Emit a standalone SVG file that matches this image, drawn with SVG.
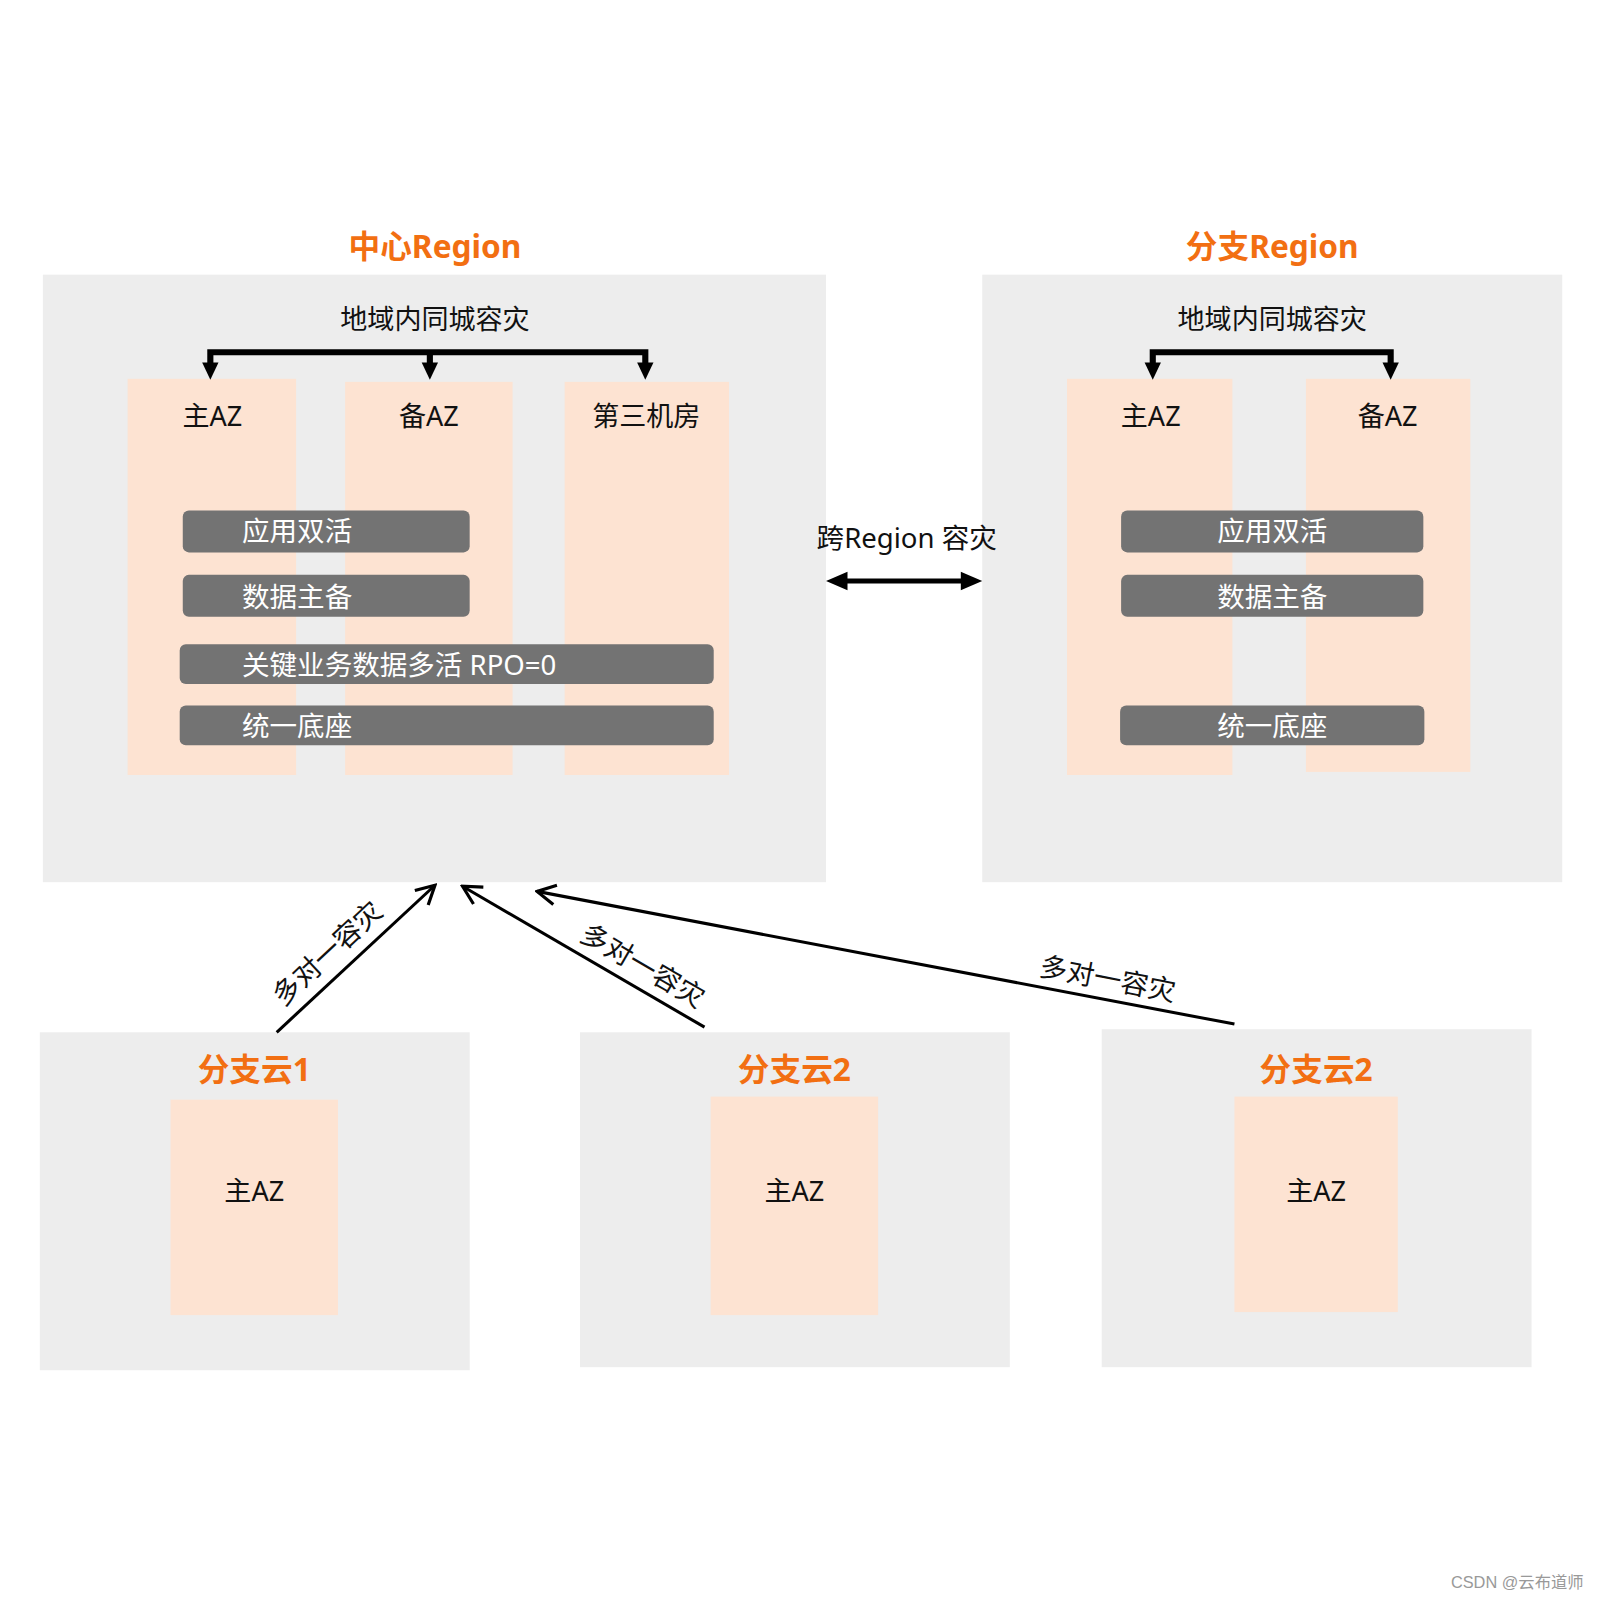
<svg xmlns="http://www.w3.org/2000/svg" width="1601" height="1600" viewBox="0 0 1601 1600">
<style>
text{font-family:"Noto Sans","Noto Sans CJK SC",sans-serif;}
.region{fill:#ededed;}
.az{fill:#fde3d2;}
.bar{fill:#737373;}
.title{fill:#f26f12;font-size:31px;font-weight:bold;text-anchor:middle;dominant-baseline:central;}
.lbl{fill:#111;font-size:26.5px;text-anchor:middle;dominant-baseline:central;}
.bt{fill:#fff;font-size:27px;dominant-baseline:central;}
.btc{fill:#fff;font-size:27px;text-anchor:middle;dominant-baseline:central;}
.thick{fill:none;stroke:#000;stroke-width:6;}
.conn{fill:none;stroke:#000;stroke-width:3;}
</style>
<defs>
<marker id="open" viewBox="0 0 20 20" refX="18" refY="10" markerWidth="24" markerHeight="24" orient="auto" markerUnits="userSpaceOnUse">
<path d="M3,2 L18,10 L3,18" fill="none" stroke="#000" stroke-width="2.6"/>
</marker>
</defs>
<rect width="1601" height="1600" fill="#fff"/>
<g transform="scale(1.02105)">
<g id="center-region">
<rect class="region" x="42" y="269" width="767" height="595"/>
<text class="title" x="426" y="240">中心Region</text>
<text class="lbl" x="426" y="312">地域内同城容灾</text>
</g>
<g id="center-az1"><rect class="az" x="125" y="371" width="165" height="388"/><text class="lbl" x="208" y="407">主AZ</text></g>
<g id="center-az2"><rect class="az" x="338" y="374" width="164" height="385"/><text class="lbl" x="420" y="407">备AZ</text></g>
<g id="center-az3"><rect class="az" x="553" y="374" width="161" height="385"/><text class="lbl" x="633" y="407">第三机房</text></g>
<g id="center-bar1"><rect class="bar" x="179" y="500" width="281" height="41" rx="6"/><text class="bt" x="237" y="520">应用双活</text></g>
<g id="center-bar2"><rect class="bar" x="179" y="563" width="281" height="41" rx="6"/><text class="bt" x="237" y="584">数据主备</text></g>
<g id="center-bar3"><rect class="bar" x="176" y="631" width="523" height="39" rx="6"/><text class="bt" x="237" y="651">关键业务数据多活 RPO=0</text></g>
<g id="center-bar4"><rect class="bar" x="176" y="691" width="523" height="39" rx="6"/><text class="bt" x="237" y="711">统一底座</text></g>

<g id="branch-region">
<rect class="region" x="962" y="269" width="568" height="595"/>
<text class="title" x="1246" y="240">分支Region</text>
<text class="lbl" x="1246" y="312">地域内同城容灾</text>
</g>
<g id="branch-az1"><rect class="az" x="1045" y="371" width="162" height="388"/><text class="lbl" x="1127" y="407">主AZ</text></g>
<g id="branch-az2"><rect class="az" x="1279" y="371" width="161" height="385"/><text class="lbl" x="1359" y="407">备AZ</text></g>
<g id="branch-bar1"><rect class="bar" x="1098" y="500" width="296" height="41" rx="6"/><text class="btc" x="1246" y="520">应用双活</text></g>
<g id="branch-bar2"><rect class="bar" x="1098" y="563" width="296" height="41" rx="6"/><text class="btc" x="1246" y="584">数据主备</text></g>
<g id="branch-bar3"><rect class="bar" x="1097" y="691" width="298" height="39" rx="6"/><text class="btc" x="1246" y="711">统一底座</text></g>

<g id="cloud1">
<rect class="region" x="39" y="1011" width="421" height="331"/>
<text class="title" x="249" y="1046">分支云1</text>
<rect class="az" x="167" y="1077" width="164" height="211"/>
<text class="lbl" x="249" y="1166">主AZ</text>
</g>
<g id="cloud2">
<rect class="region" x="568" y="1011" width="421" height="328"/>
<text class="title" x="778" y="1046">分支云2</text>
<rect class="az" x="696" y="1074" width="164" height="214"/>
<text class="lbl" x="778" y="1166">主AZ</text>
</g>
<g id="cloud3">
<rect class="region" x="1079" y="1008" width="421" height="331"/>
<text class="title" x="1289" y="1046">分支云2</text>
<rect class="az" x="1209" y="1074" width="160" height="211"/>
<text class="lbl" x="1289" y="1166">主AZ</text>
</g>

<g id="connectors">
<path class="thick" d="M206,359 V345 H632 V359 M421,345 V359"/>
<polygon points="198,355 214,355 206,372"/>
<polygon points="413,355 429,355 421,372"/>
<polygon points="624,355 640,355 632,372"/>
<path class="thick" d="M1129,359 V345 H1362 V359"/>
<polygon points="1121,355 1137,355 1129,372"/>
<polygon points="1354,355 1370,355 1362,372"/>
<text class="lbl" x="888" y="526" style="font-size:27px">跨Region 容灾</text>
<line x1="826" y1="569" x2="945" y2="569" stroke="#000" stroke-width="5"/>
<polygon points="809,569 830,560 830,578"/>
<polygon points="962,569 941,560 941,578"/>
<line class="conn" x1="271" y1="1011" x2="426" y2="867" marker-end="url(#open)"/>
<line class="conn" x1="690" y1="1006" x2="453" y2="868" marker-end="url(#open)"/>
<line class="conn" x1="1209" y1="1003" x2="526" y2="873" marker-end="url(#open)"/>
<text class="lbl" transform="translate(320,933) rotate(-43)" x="0" y="0" style="font-size:27px">多对一容灾</text>
<text class="lbl" transform="translate(630,945) rotate(30)" x="0" y="0" style="font-size:27px">多对一容灾</text>
<text class="lbl" transform="translate(1085,958) rotate(11)" x="0" y="0" style="font-size:27px">多对一容灾</text>
</g>
<text x="1486" y="1549" font-size="16" fill="#999" text-anchor="middle" dominant-baseline="central" style="font-family:'Liberation Sans','Noto Sans CJK SC',sans-serif">CSDN @云布道师</text>
</g>
</svg>
